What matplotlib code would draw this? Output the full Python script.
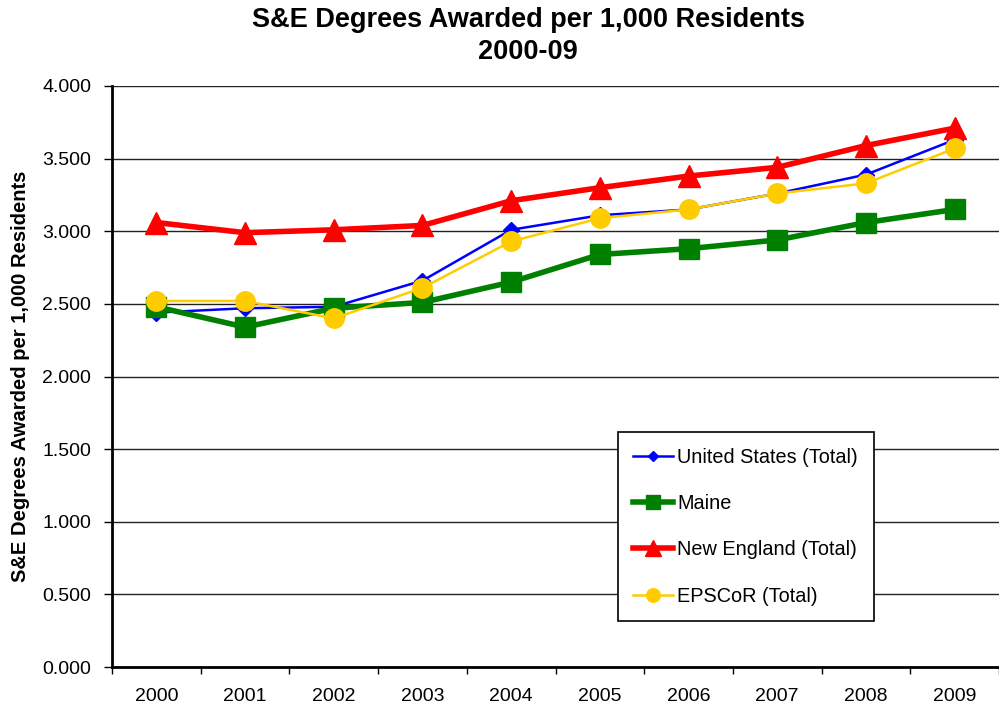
import matplotlib
matplotlib.use("Agg")
import matplotlib.pyplot as plt
from matplotlib.ticker import FixedLocator, NullFormatter

plt.rcParams['font.family'] = ['Liberation Sans', 'DejaVu Sans']

years = ['2000', '2001', '2002', '2003', '2004', '2005', '2006', '2007', '2008', '2009']
us_total = [2.44, 2.47, 2.48, 2.66, 3.01, 3.11, 3.15, 3.26, 3.39, 3.63]
maine = [2.48, 2.34, 2.47, 2.51, 2.65, 2.84, 2.88, 2.94, 3.06, 3.15]
new_england = [3.06, 2.99, 3.01, 3.04, 3.21, 3.30, 3.38, 3.44, 3.59, 3.71]
epscor = [2.52, 2.52, 2.40, 2.61, 2.93, 3.09, 3.15, 3.26, 3.33, 3.57]
y_ticks = [0.0, 0.5, 1.0, 1.5, 2.0, 2.5, 3.0, 3.5, 4.0]

fig = plt.figure(figsize=(9.99, 7.09), dpi=100)
ax = fig.add_axes([112/999, 1-667/709, 887/999, 581/709])

x = list(range(len(years)))
ax.plot(x, us_total, color='#0000FF', lw=1.8, marker='D', ms=8, label='United States (Total)', zorder=3)
ax.plot(x, maine, color='#008000', lw=4, marker='s', ms=14, label='Maine', zorder=4)
ax.plot(x, new_england, color='#FF0000', lw=4, marker='^', ms=15.5, label='New England (Total)', zorder=5)
ax.plot(x, epscor, color='#FFCC00', lw=1.8, marker='o', ms=14, label='EPSCoR (Total)', zorder=6)

ax.set_xlim(-0.5, len(years) - 0.5)
ax.set_ylim(0, 4.0)
ax.set_yticks(y_ticks)
ax.set_yticklabels([f'{v:.3f}' for v in y_ticks], fontsize=14)
ax.xaxis.set_major_locator(FixedLocator([i - 0.5 for i in range(len(years) + 1)]))
ax.xaxis.set_major_formatter(NullFormatter())
ax.xaxis.set_minor_locator(FixedLocator(x))
ax.set_xticklabels(years, minor=True, fontsize=14)
ax.tick_params(axis='x', which='minor', length=0, pad=15)
ax.tick_params(axis='x', which='major', length=5, width=1, direction='out')
ax.tick_params(axis='y', length=6, width=1, direction='out', pad=9)

ax.grid(axis='y', color='#222222', lw=1)
ax.set_axisbelow(True)
for s in ['top', 'right']:
    ax.spines[s].set_visible(False)
ax.spines['left'].set_linewidth(2)
ax.spines['bottom'].set_linewidth(2)

ax.set_ylabel('S&E Degrees Awarded per 1,000 Residents', fontsize=14.5, fontweight='bold', labelpad=9)
fig.suptitle('S&E Degrees Awarded per 1,000 Residents\n2000-09', fontsize=19.5, fontweight='bold',
             x=528/999, y=0.99, va='top', linespacing=1.3)

leg = ax.legend(loc='upper left', bbox_to_anchor=(0.570, 0.4045), fontsize=14.3, frameon=True,
                fancybox=False, edgecolor='black', framealpha=1, labelspacing=1.37,
                handlelength=2.0, handletextpad=0.2, borderpad=0.8, borderaxespad=0,
                markerscale=0.7)
leg.get_frame().set_linewidth(1.2)

fig.savefig('out.png', dpi=100)
